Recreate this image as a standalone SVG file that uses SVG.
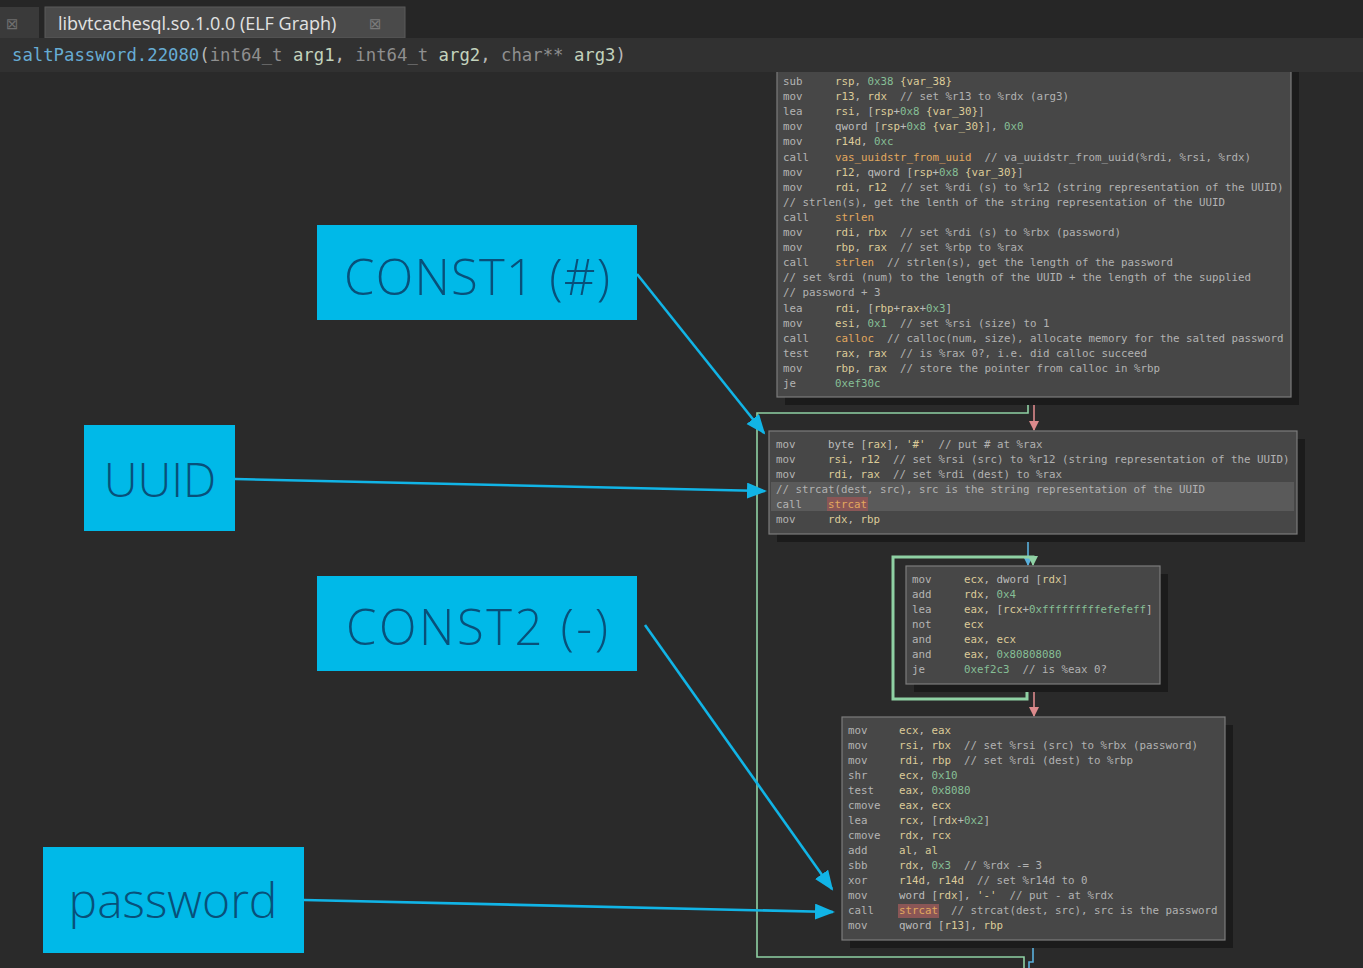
<svg xmlns="http://www.w3.org/2000/svg" width="1363" height="968" viewBox="0 0 1363 968">
  <style>
    .code { font-family: "DejaVu Sans Mono", "Liberation Mono", monospace; font-size: 10.8px; }
    .m { fill: #b4b4b4; }
    .r { fill: #dccb98; }
    .n { fill: #86bf96; }
    .c { fill: #b2b2b2; }
    .f { fill: #e2a85e; }
    .t { fill: #bcbcbc; }
    .blk { fill: #474747; stroke: #7c7c7c; stroke-width: 1.2; }
    .shadow { fill: #1b1b1b; }
    .label { fill: #00b9e8; }
    .ltxt { font-family: "Open Sans", "Lato", "Liberation Sans", sans-serif; font-weight: 300; fill: #08507a; text-anchor: middle; }
    .edge-g { fill: none; stroke: #8fd1a4; stroke-width: 1.6; }
    .edge-gt { fill: none; stroke: #8fd1a4; stroke-width: 3; }
    .edge-r { fill: none; stroke: #dc8a8c; stroke-width: 1.6; }
    .edge-b { fill: none; stroke: #5ab0dc; stroke-width: 1.6; }
    .pointer { fill: none; stroke: #11b4e6; stroke-width: 2.6; }
  </style>
  <defs>
    <marker id="cyanHead" markerUnits="userSpaceOnUse" markerWidth="22" markerHeight="18" refX="18" refY="8" orient="auto">
      <path d="M0,0 L20,8 L0,16 z" fill="#11b4e6"/>
    </marker>
    <marker id="redHead" markerUnits="userSpaceOnUse" markerWidth="10" markerHeight="10" refX="9" refY="5" orient="auto">
      <path d="M0,0 L10,5 L0,10 z" fill="#dc8a8c"/>
    </marker>
    <marker id="blueHead" markerUnits="userSpaceOnUse" markerWidth="10" markerHeight="10" refX="9" refY="5" orient="auto">
      <path d="M0,0 L10,5 L0,10 z" fill="#5ab0dc"/>
    </marker>
    <marker id="greenHead" markerUnits="userSpaceOnUse" markerWidth="10" markerHeight="10" refX="9" refY="5" orient="auto">
      <path d="M0,0 L10,5 L0,10 z" fill="#8fd1a4"/>
    </marker>
  </defs>

  <!-- canvas -->
  <rect x="0" y="0" width="1363" height="968" fill="#2a2a2a"/>

  <!-- connectors -->
  <g id="connectors">
    <!-- false branch of first block runs round the left side -->
    <polyline class="edge-g" points="1028,397 1028,413 757,413 757,957 1024,957 1024,968"/>
    <!-- true branch into the strcat block -->
    <line class="edge-r" x1="1034" y1="397" x2="1034" y2="430" marker-end="url(#redHead)"/>
    <!-- fall-through into the strlen loop -->
    <line class="edge-b" x1="1028" y1="534" x2="1028" y2="565" marker-end="url(#blueHead)"/>
    <!-- loop back edge -->
    <polyline class="edge-gt" points="1027,684 1027,699 893,699 893,557 1033,557 1033,562"/>
    <line class="edge-g" x1="1033" y1="557" x2="1033" y2="565" marker-end="url(#greenHead)"/>
    <!-- loop exit -->
    <line class="edge-r" x1="1034" y1="684" x2="1034" y2="716" marker-end="url(#redHead)"/>
    <!-- exit of last block -->
    <polyline class="edge-b" points="1033,940 1033,962 1029,962 1029,968"/>

    <!-- annotation pointers -->
    <line class="pointer" x1="637" y1="274" x2="764" y2="433" marker-end="url(#cyanHead)"/>
    <line class="pointer" x1="235" y1="479" x2="765" y2="491" marker-end="url(#cyanHead)"/>
    <line class="pointer" x1="645" y1="625" x2="832" y2="889" marker-end="url(#cyanHead)"/>
    <line class="pointer" x1="304" y1="900" x2="833" y2="912" marker-end="url(#cyanHead)"/>
  </g>

  <!-- block 1: prologue, uuid conversion, length computation, calloc -->
  <g id="block-prologue">
    <rect class="shadow" x="785" y="66" width="514" height="339"/>
    <rect class="blk" x="777" y="58" width="514" height="339"/>
    <g class="code">
      <text x="783" y="85"><tspan class="m">sub</tspan><tspan x="835" class="r">rsp</tspan><tspan class="t">, </tspan><tspan class="n">0x38</tspan><tspan class="r"> {var_38}</tspan></text>
      <text x="783" y="100.1"><tspan class="m">mov</tspan><tspan x="835" class="r">r13</tspan><tspan class="t">, </tspan><tspan class="r">rdx</tspan><tspan class="c" dx="6.5"> // set %r13 to %rdx (arg3)</tspan></text>
      <text x="783" y="115.2"><tspan class="m">lea</tspan><tspan x="835" class="r">rsi</tspan><tspan class="t">, [</tspan><tspan class="r">rsp</tspan><tspan class="t">+</tspan><tspan class="n">0x8</tspan><tspan class="r"> {var_30}</tspan><tspan class="t">]</tspan></text>
      <text x="783" y="130.3"><tspan class="m">mov</tspan><tspan x="835" class="t">qword [</tspan><tspan class="r">rsp</tspan><tspan class="t">+</tspan><tspan class="n">0x8</tspan><tspan class="r"> {var_30}</tspan><tspan class="t">], </tspan><tspan class="n">0x0</tspan></text>
      <text x="783" y="145.4"><tspan class="m">mov</tspan><tspan x="835" class="r">r14d</tspan><tspan class="t">, </tspan><tspan class="n">0xc</tspan></text>
      <text x="783" y="160.5"><tspan class="m">call</tspan><tspan x="835" class="f">vas_uuidstr_from_uuid</tspan><tspan class="c" dx="6.5"> // va_uuidstr_from_uuid(%rdi, %rsi, %rdx)</tspan></text>
      <text x="783" y="175.6"><tspan class="m">mov</tspan><tspan x="835" class="r">r12</tspan><tspan class="t">, qword [</tspan><tspan class="r">rsp</tspan><tspan class="t">+</tspan><tspan class="n">0x8</tspan><tspan class="r"> {var_30}</tspan><tspan class="t">]</tspan></text>
      <text x="783" y="190.7"><tspan class="m">mov</tspan><tspan x="835" class="r">rdi</tspan><tspan class="t">, </tspan><tspan class="r">r12</tspan><tspan class="c" dx="6.5"> // set %rdi (s) to %r12 (string representation of the UUID)</tspan></text>
      <text x="783" y="205.8" class="c">// strlen(s), get the lenth of the string representation of the UUID</text>
      <text x="783" y="220.9"><tspan class="m">call</tspan><tspan x="835" class="f">strlen</tspan></text>
      <text x="783" y="236"><tspan class="m">mov</tspan><tspan x="835" class="r">rdi</tspan><tspan class="t">, </tspan><tspan class="r">rbx</tspan><tspan class="c" dx="6.5"> // set %rdi (s) to %rbx (password)</tspan></text>
      <text x="783" y="251.1"><tspan class="m">mov</tspan><tspan x="835" class="r">rbp</tspan><tspan class="t">, </tspan><tspan class="r">rax</tspan><tspan class="c" dx="6.5"> // set %rbp to %rax</tspan></text>
      <text x="783" y="266.2"><tspan class="m">call</tspan><tspan x="835" class="f">strlen</tspan><tspan class="c" dx="6.5"> // strlen(s), get the length of the password</tspan></text>
      <text x="783" y="281.3" class="c">// set %rdi (num) to the length of the UUID + the length of the supplied</text>
      <text x="783" y="296.4" class="c">// password + 3</text>
      <text x="783" y="311.5"><tspan class="m">lea</tspan><tspan x="835" class="r">rdi</tspan><tspan class="t">, [</tspan><tspan class="r">rbp</tspan><tspan class="t">+</tspan><tspan class="r">rax</tspan><tspan class="t">+</tspan><tspan class="n">0x3</tspan><tspan class="t">]</tspan></text>
      <text x="783" y="326.6"><tspan class="m">mov</tspan><tspan x="835" class="r">esi</tspan><tspan class="t">, </tspan><tspan class="n">0x1</tspan><tspan class="c" dx="6.5"> // set %rsi (size) to 1</tspan></text>
      <text x="783" y="341.7"><tspan class="m">call</tspan><tspan x="835" class="f">calloc</tspan><tspan class="c" dx="6.5"> // calloc(num, size), allocate memory for the salted password</tspan></text>
      <text x="783" y="356.8"><tspan class="m">test</tspan><tspan x="835" class="r">rax</tspan><tspan class="t">, </tspan><tspan class="r">rax</tspan><tspan class="c" dx="6.5"> // is %rax 0?, i.e. did calloc succeed</tspan></text>
      <text x="783" y="371.9"><tspan class="m">mov</tspan><tspan x="835" class="r">rbp</tspan><tspan class="t">, </tspan><tspan class="r">rax</tspan><tspan class="c" dx="6.5"> // store the pointer from calloc in %rbp</tspan></text>
      <text x="783" y="387"><tspan class="m">je</tspan><tspan x="835" class="n">0xef30c</tspan></text>
    </g>
  </g>

  <!-- block 2: '#' separator and strcat of the uuid string -->
  <g id="block-strcat-uuid">
    <rect class="shadow" x="777" y="439" width="528" height="103"/>
    <rect class="blk" x="769" y="431" width="528" height="103"/>
    <rect x="771" y="482" width="523" height="29" fill="#5a5a5a"/>
    <rect x="827" y="497" width="41" height="14" fill="#8a5656"/>
    <g class="code">
      <text x="776" y="448"><tspan class="m">mov</tspan><tspan x="828" class="t">byte [</tspan><tspan class="r">rax</tspan><tspan class="t">], </tspan><tspan class="r">'#'</tspan><tspan class="c" dx="6.5"> // put # at %rax</tspan></text>
      <text x="776" y="463"><tspan class="m">mov</tspan><tspan x="828" class="r">rsi</tspan><tspan class="t">, </tspan><tspan class="r">r12</tspan><tspan class="c" dx="6.5"> // set %rsi (src) to %r12 (string representation of the UUID)</tspan></text>
      <text x="776" y="478"><tspan class="m">mov</tspan><tspan x="828" class="r">rdi</tspan><tspan class="t">, </tspan><tspan class="r">rax</tspan><tspan class="c" dx="6.5"> // set %rdi (dest) to %rax</tspan></text>
      <text x="776" y="493" class="c">// strcat(dest, src), src is the string representation of the UUID</text>
      <text x="776" y="508"><tspan class="m">call</tspan><tspan x="828" class="f">strcat</tspan></text>
      <text x="776" y="523"><tspan class="m">mov</tspan><tspan x="828" class="r">rdx</tspan><tspan class="t">, </tspan><tspan class="r">rbp</tspan></text>
    </g>
  </g>

  <!-- block 3: word-at-a-time strlen loop -->
  <g id="block-strlen-loop">
    <rect class="shadow" x="914" y="574" width="254" height="118"/>
    <rect class="blk" x="906" y="566" width="254" height="118"/>
    <g class="code">
      <text x="912" y="583"><tspan class="m">mov</tspan><tspan x="964" class="r">ecx</tspan><tspan class="t">, dword [</tspan><tspan class="r">rdx</tspan><tspan class="t">]</tspan></text>
      <text x="912" y="598"><tspan class="m">add</tspan><tspan x="964" class="r">rdx</tspan><tspan class="t">, </tspan><tspan class="n">0x4</tspan></text>
      <text x="912" y="613"><tspan class="m">lea</tspan><tspan x="964" class="r">eax</tspan><tspan class="t">, [</tspan><tspan class="r">rcx</tspan><tspan class="t">+</tspan><tspan class="n">0xfffffffffefefeff</tspan><tspan class="t">]</tspan></text>
      <text x="912" y="628"><tspan class="m">not</tspan><tspan x="964" class="r">ecx</tspan></text>
      <text x="912" y="643"><tspan class="m">and</tspan><tspan x="964" class="r">eax</tspan><tspan class="t">, </tspan><tspan class="r">ecx</tspan></text>
      <text x="912" y="658"><tspan class="m">and</tspan><tspan x="964" class="r">eax</tspan><tspan class="t">, </tspan><tspan class="n">0x80808080</tspan></text>
      <text x="912" y="673"><tspan class="m">je</tspan><tspan x="964" class="n">0xef2c3</tspan><tspan class="c" dx="6.5"> // is %eax 0?</tspan></text>
    </g>
  </g>

  <!-- block 4: '-' separator and strcat of the password -->
  <g id="block-strcat-password">
    <rect class="shadow" x="850" y="725" width="383" height="223"/>
    <rect class="blk" x="842" y="717" width="383" height="223"/>
    <rect x="898" y="904" width="41" height="14" fill="#8a5656"/>
    <g class="code">
      <text x="848" y="734"><tspan class="m">mov</tspan><tspan x="899" class="r">ecx</tspan><tspan class="t">, </tspan><tspan class="r">eax</tspan></text>
      <text x="848" y="749"><tspan class="m">mov</tspan><tspan x="899" class="r">rsi</tspan><tspan class="t">, </tspan><tspan class="r">rbx</tspan><tspan class="c" dx="6.5"> // set %rsi (src) to %rbx (password)</tspan></text>
      <text x="848" y="764"><tspan class="m">mov</tspan><tspan x="899" class="r">rdi</tspan><tspan class="t">, </tspan><tspan class="r">rbp</tspan><tspan class="c" dx="6.5"> // set %rdi (dest) to %rbp</tspan></text>
      <text x="848" y="779"><tspan class="m">shr</tspan><tspan x="899" class="r">ecx</tspan><tspan class="t">, </tspan><tspan class="n">0x10</tspan></text>
      <text x="848" y="794"><tspan class="m">test</tspan><tspan x="899" class="r">eax</tspan><tspan class="t">, </tspan><tspan class="n">0x8080</tspan></text>
      <text x="848" y="809"><tspan class="m">cmove</tspan><tspan x="899" class="r">eax</tspan><tspan class="t">, </tspan><tspan class="r">ecx</tspan></text>
      <text x="848" y="824"><tspan class="m">lea</tspan><tspan x="899" class="r">rcx</tspan><tspan class="t">, [</tspan><tspan class="r">rdx</tspan><tspan class="t">+</tspan><tspan class="n">0x2</tspan><tspan class="t">]</tspan></text>
      <text x="848" y="839"><tspan class="m">cmove</tspan><tspan x="899" class="r">rdx</tspan><tspan class="t">, </tspan><tspan class="r">rcx</tspan></text>
      <text x="848" y="854"><tspan class="m">add</tspan><tspan x="899" class="r">al</tspan><tspan class="t">, </tspan><tspan class="r">al</tspan></text>
      <text x="848" y="869"><tspan class="m">sbb</tspan><tspan x="899" class="r">rdx</tspan><tspan class="t">, </tspan><tspan class="n">0x3</tspan><tspan class="c" dx="6.5"> // %rdx -= 3</tspan></text>
      <text x="848" y="884"><tspan class="m">xor</tspan><tspan x="899" class="r">r14d</tspan><tspan class="t">, </tspan><tspan class="r">r14d</tspan><tspan class="c" dx="6.5"> // set %r14d to 0</tspan></text>
      <text x="848" y="899"><tspan class="m">mov</tspan><tspan x="899" class="t">word [</tspan><tspan class="r">rdx</tspan><tspan class="t">], </tspan><tspan class="r">'-'</tspan><tspan class="c" dx="6.5"> // put - at %rdx</tspan></text>
      <text x="848" y="914"><tspan class="m">call</tspan><tspan x="899" class="f">strcat</tspan><tspan class="c" dx="6.5"> // strcat(dest, src), src is the password</tspan></text>
      <text x="848" y="929"><tspan class="m">mov</tspan><tspan x="899" class="t">qword [</tspan><tspan class="r">r13</tspan><tspan class="t">], </tspan><tspan class="r">rbp</tspan></text>
    </g>
  </g>

  <!-- annotation labels -->
  <g id="label-const1">
    <rect class="label" x="317" y="225" width="320" height="95"/>
    <text class="ltxt" x="477" y="295" font-size="49" textLength="266" lengthAdjust="spacing">CONST1 (#)</text>
  </g>
  <g id="label-uuid">
    <rect class="label" x="84" y="425" width="151" height="106"/>
    <text class="ltxt" x="160" y="497" font-size="47">UUID</text>
  </g>
  <g id="label-const2">
    <rect class="label" x="317" y="576" width="320" height="95"/>
    <text class="ltxt" x="477" y="645" font-size="49" textLength="262" lengthAdjust="spacing">CONST2 (-)</text>
  </g>
  <g id="label-password">
    <rect class="label" x="43" y="847" width="261" height="106"/>
    <text class="ltxt" x="173" y="918" font-size="48">password</text>
  </g>

  <!-- tab strip, drawn last so the graph scrolls beneath it -->
  <g id="tabs">
    <rect x="0" y="0" width="1363" height="38" fill="#262626"/>
    <rect x="0" y="7" width="39" height="31" fill="#3a3a3a"/>
    <rect x="45" y="7" width="360" height="31" fill="#4a4a4a" stroke="#5a5a5a" stroke-width="1"/>
    <text x="6" y="29" font-family="DejaVu Sans, sans-serif" font-size="15" fill="#6e6e6e">⊠</text>
    <text x="58" y="30" font-family="Open Sans, Liberation Sans, sans-serif" font-size="18" fill="#e2e2e2">libvtcachesql.so.1.0.0 (ELF Graph)</text>
    <text x="369" y="29" font-family="DejaVu Sans, sans-serif" font-size="15" fill="#7a7a7a">⊠</text>
  </g>

  <!-- function signature bar -->
  <g id="signature">
    <rect x="0" y="38" width="1363" height="34" fill="#313131"/>
    <text x="12" y="61" font-family="DejaVu Sans Mono, Liberation Mono, monospace" font-size="17.3"><tspan fill="#67acd4">saltPassword.22080</tspan><tspan fill="#b8b8b8">(</tspan><tspan fill="#8f8f8f">int64_t </tspan><tspan fill="#c3d3bd">arg1</tspan><tspan fill="#b8b8b8">, </tspan><tspan fill="#8f8f8f">int64_t </tspan><tspan fill="#c3d3bd">arg2</tspan><tspan fill="#b8b8b8">, </tspan><tspan fill="#8f8f8f">char** </tspan><tspan fill="#c3d3bd">arg3</tspan><tspan fill="#b8b8b8">)</tspan></text>
  </g>
</svg>
